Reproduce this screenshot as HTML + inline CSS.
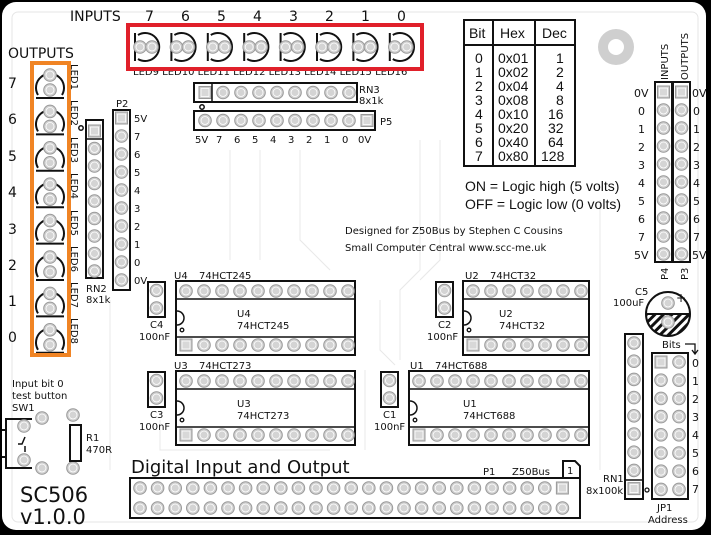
<!DOCTYPE html>
<html><head><meta charset="utf-8"><style>
html,body{margin:0;padding:0;background:#000;}
svg{display:block}
text{font-family:"DejaVu Sans","Liberation Sans",sans-serif;fill:#111}
</style></head><body>
<svg id="s" width="711" height="535" viewBox="0 0 711 535" xmlns="http://www.w3.org/2000/svg">
<rect x="0" y="0" width="711" height="535" fill="#000"/>
<rect x="2" y="2" width="704" height="528" rx="14" fill="#fff"/>
<rect x="12" y="12" width="686" height="510" rx="6" fill="none" stroke="#e6e6e6" stroke-width="1"/>
<g stroke="#e8e8e8" stroke-width="1" fill="none">
<path d="M420 140 L420 270 L400 290 L400 360"/><path d="M440 140 L440 260 L420 280"/>
<path d="M230 150 L230 260"/><path d="M260 150 L260 260"/><path d="M300 150 L300 240 L330 270"/>
<path d="M380 300 L380 350 L395 365"/><path d="M600 200 L600 470"/><path d="M110 300 L110 470"/>
<path d="M365 370 L365 450"/><path d="M160 420 L160 450 L330 450"/>
</g>
<g id="g"></g>
<g font-size="14">
<text x="70" y="21">INPUTS</text>
<text x="145" y="21">7</text><text x="181" y="21">6</text><text x="217" y="21">5</text><text x="253" y="21">4</text><text x="289" y="21">3</text><text x="325" y="21">2</text><text x="361" y="21">1</text><text x="397" y="21">0</text>
<text x="8" y="58">OUTPUTS</text>
<text x="8" y="88">7</text><text x="8" y="124">6</text><text x="8" y="161">5</text><text x="8" y="197">4</text><text x="8" y="234">3</text><text x="8" y="270">2</text><text x="8" y="306">1</text><text x="8" y="342">0</text>
</g>
<g font-size="10">
<text x="133" y="75">LED9 LED10 LED11 LED12 LED13 LED14 LED15 LED16</text>
</g>
<g font-size="10">
<text x="116" y="107">P2</text>
<text x="86" y="292">RN2</text><text x="86" y="303">8x1k</text>
<text x="134" y="122">5V</text><text x="134" y="140">7</text><text x="134" y="158">6</text><text x="134" y="176">5</text><text x="134" y="194">4</text><text x="134" y="212">3</text><text x="134" y="230">2</text><text x="134" y="248">1</text><text x="134" y="266">0</text><text x="134" y="284">0V</text>
<text x="359" y="93">RN3</text><text x="359" y="104">8x1k</text>
<text x="380" y="125">P5</text>
<text x="195" y="143">5V</text><text x="216" y="143">7</text><text x="234" y="143">6</text><text x="252" y="143">5</text><text x="270" y="143">4</text><text x="288" y="143">3</text><text x="306" y="143">2</text><text x="324" y="143">1</text><text x="342" y="143">0</text><text x="358" y="143">0V</text>
<text x="174" y="279">U4</text><text x="199" y="279">74HCT245</text>
<text x="237" y="317">U4</text><text x="237" y="329">74HCT245</text>
<text x="150" y="328">C4</text><text x="139" y="340">100nF</text>
<text x="174" y="369">U3</text><text x="199" y="369">74HCT273</text>
<text x="237" y="407">U3</text><text x="237" y="419">74HCT273</text>
<text x="150" y="418">C3</text><text x="139" y="430">100nF</text>
<text x="465" y="279">U2</text><text x="490" y="279">74HCT32</text>
<text x="499" y="317">U2</text><text x="499" y="329">74HCT32</text>
<text x="438" y="328">C2</text><text x="427" y="340">100nF</text>
<text x="410" y="369">U1</text><text x="435" y="369">74HCT688</text>
<text x="463" y="407">U1</text><text x="463" y="419">74HCT688</text>
<text x="383" y="418">C1</text><text x="374" y="430">100nF</text>
<text x="483" y="475">P1</text><text x="512" y="475">Z50Bus</text>
<text x="567" y="474">1</text>
<text x="603" y="482">RN1</text><text x="586" y="494">8x100k</text>
<text x="662" y="348">Bits</text>
<text x="657" y="511">JP1</text><text x="648" y="523">Address</text>
<text x="635" y="295">C5</text><text x="613" y="306">100uF</text>
<text x="345" y="234">Designed for Z50Bus by Stephen C Cousins</text>
<text x="345" y="251">Small Computer Central    www.scc-me.uk</text>
<text x="12" y="387">Input bit 0</text><text x="12" y="399">test button</text><text x="12" y="411">SW1</text>
<text x="86" y="441">R1</text><text x="86" y="453">470R</text>
</g>
<g font-size="11">
<text x="692" y="367">0</text><text x="692" y="385">1</text><text x="692" y="403">2</text><text x="692" y="421">3</text><text x="692" y="439">4</text><text x="692" y="457">5</text><text x="692" y="475">6</text><text x="692" y="493">7</text>
<text x="634" y="97">0V</text><text x="638" y="115">0</text><text x="638" y="133">1</text><text x="638" y="151">2</text><text x="638" y="169">3</text><text x="638" y="187">4</text><text x="638" y="205">5</text><text x="638" y="223">6</text><text x="638" y="241">7</text><text x="634" y="259">5V</text>
<text x="692" y="97">0V</text><text x="693" y="115">0</text><text x="693" y="133">1</text><text x="693" y="151">2</text><text x="693" y="169">3</text><text x="693" y="187">4</text><text x="693" y="205">5</text><text x="693" y="223">6</text><text x="693" y="241">7</text><text x="692" y="259">5V</text>
</g>
<g font-size="10">
<text transform="translate(668,80) rotate(-90)">INPUTS</text>
<text transform="translate(688,80) rotate(-90)">OUTPUTS</text>
<text transform="translate(668,280) rotate(-90)">P4</text>
<text transform="translate(688,280) rotate(-90)">P3</text>
</g>
<g font-size="10">
<text transform="translate(71,64) rotate(90)">LED1</text>
<text transform="translate(71,100) rotate(90)">LED2</text>
<text transform="translate(71,137) rotate(90)">LED3</text>
<text transform="translate(71,173) rotate(90)">LED4</text>
<text transform="translate(71,210) rotate(90)">LED5</text>
<text transform="translate(71,246) rotate(90)">LED6</text>
<text transform="translate(71,282) rotate(90)">LED7</text>
<text transform="translate(71,318) rotate(90)">LED8</text>
</g>
<g fill="none" stroke="#111" stroke-width="2">
<rect x="464" y="20" width="111" height="146"/>
<line x1="464" y1="45" x2="575" y2="45"/>
<line x1="493" y1="20" x2="493" y2="166"/><line x1="535" y1="20" x2="535" y2="166"/>
</g>
<g font-size="14" style="font-family:'Liberation Sans',sans-serif">
<text x="469" y="38" style="font-family:'Liberation Sans',sans-serif">Bit</text><text x="500" y="38" style="font-family:'Liberation Sans',sans-serif">Hex</text><text x="542" y="38" style="font-family:'Liberation Sans',sans-serif">Dec</text>
</g>
<g font-size="14" style="font-family:'Liberation Sans',sans-serif">
<text x="475" y="63" style="font-family:'Liberation Sans'">0</text><text x="498" y="63" style="font-family:'Liberation Sans'">0x01</text><text x="556" y="63" style="font-family:'Liberation Sans'">1</text>
<text x="475" y="77" style="font-family:'Liberation Sans'">1</text><text x="498" y="77" style="font-family:'Liberation Sans'">0x02</text><text x="556" y="77" style="font-family:'Liberation Sans'">2</text>
<text x="475" y="91" style="font-family:'Liberation Sans'">2</text><text x="498" y="91" style="font-family:'Liberation Sans'">0x04</text><text x="556" y="91" style="font-family:'Liberation Sans'">4</text>
<text x="475" y="105" style="font-family:'Liberation Sans'">3</text><text x="498" y="105" style="font-family:'Liberation Sans'">0x08</text><text x="556" y="105" style="font-family:'Liberation Sans'">8</text>
<text x="475" y="119" style="font-family:'Liberation Sans'">4</text><text x="498" y="119" style="font-family:'Liberation Sans'">0x10</text><text x="548" y="119" style="font-family:'Liberation Sans'">16</text>
<text x="475" y="133" style="font-family:'Liberation Sans'">5</text><text x="498" y="133" style="font-family:'Liberation Sans'">0x20</text><text x="548" y="133" style="font-family:'Liberation Sans'">32</text>
<text x="475" y="147" style="font-family:'Liberation Sans'">6</text><text x="498" y="147" style="font-family:'Liberation Sans'">0x40</text><text x="548" y="147" style="font-family:'Liberation Sans'">64</text>
<text x="475" y="161" style="font-family:'Liberation Sans'">7</text><text x="498" y="161" style="font-family:'Liberation Sans'">0x80</text><text x="541" y="161" style="font-family:'Liberation Sans'">128</text>
<text x="465" y="191" font-size="14" style="font-family:'Liberation Sans'">ON = Logic high (5 volts)</text>
<text x="465" y="209" font-size="14" style="font-family:'Liberation Sans'">OFF = Logic low (0 volts)</text>
</g>
<text x="131" y="473" font-size="18">Digital Input and Output</text>
<text x="20" y="502" font-size="21">SC506</text>
<text x="20" y="524" font-size="21">v1.0.0</text>
<rect x="128" y="25" width="294" height="44" fill="none" stroke="#e0202a" stroke-width="4"/>
<rect x="32" y="63" width="37" height="292" fill="none" stroke="#f08424" stroke-width="4"/>
</svg>
<script>
var g=document.getElementById('g'),h='';
function pad(x,y,sq){ if(sq) h+='<rect x="'+(x-6)+'" y="'+(y-6)+'" width="12" height="12" fill="#ccc" stroke="#999" stroke-width="1"/><rect x="'+(x-4)+'" y="'+(y-4)+'" width="8" height="8" fill="#d8d8d8" stroke="#fff" stroke-width="0.8"/>';
 else h+='<circle cx="'+x+'" cy="'+y+'" r="6.3" fill="#cfcfcf" stroke="#999" stroke-width="1"/><circle cx="'+x+'" cy="'+y+'" r="4" fill="#d4d4d4" stroke="#fff" stroke-width="0.8"/>';}
function R(x,y,w,hh){h+='<rect x="'+x+'" y="'+y+'" width="'+w+'" height="'+hh+'" fill="none" stroke="#111" stroke-width="2"/>';}
for(var i=0;i<8;i++){var x=135+36.4*i;
 h+='<path d="M'+(x+3)+' 35 A14 14 0 1 1 '+(x+3)+' 59" fill="none" stroke="#111" stroke-width="2"/><line x1="'+x+'" y1="33" x2="'+x+'" y2="61" stroke="#111" stroke-width="2"/>';
 pad(x+5,47);pad(x+17,47);}
for(var i=0;i<8;i++){var y=98+36.4*i;
 h+='<path d="M38 '+(y-3)+' A14 14 0 1 1 62 '+(y-3)+'" fill="none" stroke="#111" stroke-width="2"/><line x1="36" y1="'+y+'" x2="64" y2="'+y+'" stroke="#111" stroke-width="2"/>';
 pad(50,y-23);pad(50,y-8);}
R(86,120,17,158);for(var i=0;i<9;i++)pad(94.5,131+17.5*i,i==0);h+='<line x1="86" y1="139" x2="103" y2="139" stroke="#111" stroke-width="1.5"/><circle cx="81" cy="128" r="2.2" fill="none" stroke="#111" stroke-width="1.5"/>';
R(113,110,17,180);for(var i=0;i<10;i++)pad(121.5,118+18*i,i==0);
R(194,83,163,19);for(var i=0;i<9;i++)pad(205+18*i,92.5,i==0);h+='<line x1="212" y1="83" x2="212" y2="102" stroke="#111" stroke-width="1.5"/><circle cx="202" cy="107" r="2.2" fill="none" stroke="#111" stroke-width="1.5"/>';
R(194,111,181,19);for(var i=0;i<10;i++)pad(205+18*i,120.5,i==9);
R(655,82,17,180);R(673,82,17,180);for(var i=0;i<10;i++){pad(663.5,92+18*i,i==0);pad(681.5,92+18*i,i==0);}
h+='<circle cx="616" cy="47" r="18" fill="#cfcfcf"/><circle cx="616" cy="47" r="8" fill="#fff"/>';
function ic(x,y,n,w){R(x,y,w,74);h+='<line x1="'+x+'" y1="'+(y+18)+'" x2="'+(x+w)+'" y2="'+(y+18)+'" stroke="#111" stroke-width="1.5"/><line x1="'+x+'" y1="'+(y+56)+'" x2="'+(x+w)+'" y2="'+(y+56)+'" stroke="#111" stroke-width="1.5"/>';
 h+='<path d="M'+(x+1)+' '+(y+30)+' A7 7 0 0 1 '+(x+1)+' '+(y+44)+'" fill="none" stroke="#111" stroke-width="1.5"/><circle cx="'+(x+6)+'" cy="'+(y+49)+'" r="1.8" fill="none" stroke="#111" stroke-width="1.3"/>';
 for(var i=0;i<n;i++){pad(x+10+18*i,y+10);pad(x+10+18*i,y+64,i==0);}}
ic(176,281,10,179);ic(176,371,10,179);ic(463,281,7,126);ic(409,371,10,180);
function cap(x,y){R(x,y,17,35);pad(x+8.5,y+8.5);pad(x+8.5,y+26);}
cap(148,282);cap(148,372);cap(436,282);cap(381,372);
h+='<defs><pattern id="ht" width="6" height="6" patternUnits="userSpaceOnUse" patternTransform="rotate(45)"><rect width="6" height="6" fill="#fff"/><rect width="3" height="6" fill="#111"/></pattern><clipPath id="cl"><rect x="640" y="314" width="60" height="30"/></clipPath></defs>';
h+='<circle cx="668" cy="314" r="22" fill="url(#ht)" clip-path="url(#cl)"/><circle cx="668" cy="314" r="22" fill="none" stroke="#111" stroke-width="2"/><line x1="646" y1="314" x2="690" y2="314" stroke="#111" stroke-width="2"/>';
pad(668,303);pad(668,322);h+='<text x="676" y="302" font-size="12">+</text>';
R(625,334,18,165);for(var i=0;i<9;i++)pad(634,343+18.2*i,i==8);h+='<line x1="625" y1="480" x2="643" y2="480" stroke="#111" stroke-width="1.5"/><circle cx="647" cy="490" r="2" fill="none" stroke="#111" stroke-width="1.3"/>';
R(652,353,36,146);for(var i=0;i<8;i++){pad(661,362+18.2*i,i==0);pad(679,362+18.2*i);}
h+='<path d="M685 344 L695 344 L695 354 M692 350 L695 354 L698 350" fill="none" stroke="#111" stroke-width="1.3"/>';
R(130,478,450,40);for(var i=0;i<25;i++){pad(140+17.6*i,488,i==24);pad(140+17.6*i,508);}
h+='<path d="M563 478 L563 461 L575 461 L580 466 L580 478" fill="none" stroke="#111" stroke-width="2"/>';
h+='<path d="M32 419 L6 419 L6 468 L32 468" fill="none" stroke="#111" stroke-width="2"/><line x1="2" y1="430" x2="6" y2="430" stroke="#111" stroke-width="2"/><line x1="2" y1="457" x2="6" y2="457" stroke="#111" stroke-width="2"/>';
h+='<path d="M18 444 L22 444 L25 437 M25 446 L25 452" fill="none" stroke="#111" stroke-width="1.5"/>';
pad(42,418);pad(24,426);pad(24,460);pad(42,468);
pad(73,415);pad(73,468);h+='<rect x="70" y="425" width="11" height="36" fill="none" stroke="#111" stroke-width="2"/>';
g.innerHTML=h;
</script>
</body></html>
